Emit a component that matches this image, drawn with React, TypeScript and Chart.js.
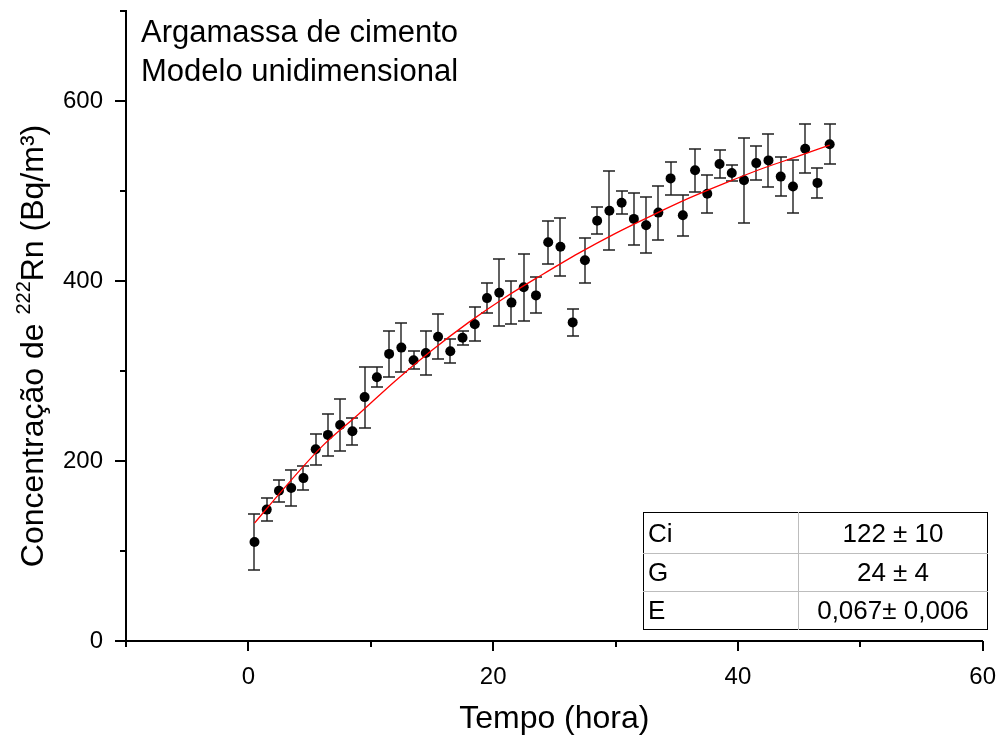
import React, { useEffect, useRef } from 'react';
import { Chart, registerables } from 'chart.js';

Chart.register(...registerables);

// ---- data ----
const hours = [
  0.5, 1.5, 2.5, 3.5, 4.5, 5.5, 6.5, 7.5, 8.5, 9.5, 10.5, 11.5,
  12.5, 13.5, 14.5, 15.5, 16.5, 17.5, 18.5, 19.5, 20.5, 21.5, 22.5, 23.5,
  24.5, 25.5, 26.5, 27.5, 28.5, 29.5, 30.5, 31.5, 32.5, 33.5, 34.5, 35.5,
  36.5, 37.5, 38.5, 39.5, 40.5, 41.5, 42.5, 43.5, 44.5, 45.5, 46.5, 47.5,
];
const concentration = [
  110, 146, 167, 170, 181, 213, 229, 240, 233, 271, 293, 319,
  326, 312, 320, 338, 322, 337, 352, 381, 387, 376, 393, 384,
  443, 438, 354, 423, 467, 478, 487, 469, 462, 476, 514, 473,
  523, 497, 530, 520, 512, 531, 534, 516, 505, 547, 509, 552,
];
const uncertainty = [
  31, 13, 12, 20, 13, 17, 23, 29, 15, 34, 11, 26,
  27, 10, 25, 25, 13, 8, 19, 17, 37, 24, 37, 20,
  24, 32, 15, 25, 15, 44, 13, 29, 31, 30, 18, 23,
  24, 21, 16, 9, 47, 19, 29, 22, 29, 27, 17, 22,
];
const fitHours = [0.5, 3, 6, 9, 12, 15, 18, 21, 24, 27, 30, 33, 36, 39, 42, 45, 47.5];
const fitConcentration = [131, 171, 216, 252, 289, 323, 354, 382, 407, 431, 453, 473, 492, 509, 525, 539, 551];

const xTickLabels = ['0', '20', '40', '60'];
const yTickLabels = ['0', '200', '400', '600'];
const tableRows = [
  ['Ci', '122 ± 10'],
  ['G', '24 ± 4'],
  ['E', '0,067± 0,006'],
];
const annotationLines = ['Argamassa de cimento', 'Modelo unidimensional'];
const yTitleParts = ['Concentração de ', '222', 'Rn (Bq/m³)'];
const xTitle = 'Tempo (hora)';

const FONT = '"Liberation Sans", Arial, Helvetica, sans-serif';

const errorBarPlugin = {
  id: 'errorBars',
  beforeDatasetsDraw(chart: any) {
    const { ctx } = chart;
    const x = chart.scales.x;
    const y = chart.scales.y;
    ctx.save();
    ctx.strokeStyle = '#202020';
    ctx.lineWidth = 1.4;
    hours.forEach((h, i) => {
      const px = Math.round(x.getPixelForValue(h));
      const top = Math.round(y.getPixelForValue(concentration[i] + uncertainty[i]));
      const bot = Math.round(y.getPixelForValue(concentration[i] - uncertainty[i]));
      ctx.beginPath();
      ctx.moveTo(px, top);
      ctx.lineTo(px, bot);
      ctx.moveTo(px - 6, top);
      ctx.lineTo(px + 6, top);
      ctx.moveTo(px - 6, bot);
      ctx.lineTo(px + 6, bot);
      ctx.stroke();
    });
    ctx.restore();
  },
};

const axisDecorPlugin = {
  id: 'axisDecor',
  afterDraw(chart: any) {
    const { ctx } = chart;
    const x = chart.scales.x;
    const y = chart.scales.y;
    ctx.save();
    ctx.strokeStyle = '#000';
    ctx.lineWidth = 2;
    const axisY = chart.chartArea.bottom;
    x.ticks.forEach((t: any) => {
      const px = Math.round(x.getPixelForValue(t.value));
      const major = t.label !== '';
      ctx.beginPath();
      ctx.moveTo(px, axisY);
      ctx.lineTo(px, axisY + (major ? 10 : 6));
      ctx.stroke();
    });
    const axisX = chart.chartArea.left;
    y.ticks.forEach((t: any) => {
      const py = Math.round(y.getPixelForValue(t.value));
      const major = t.label !== '';
      ctx.beginPath();
      ctx.moveTo(axisX - (major ? 11 : 6), py);
      ctx.lineTo(axisX, py);
      ctx.stroke();
    });

    // rotated y-axis title with superscript isotope number
    const big = `32px ${FONT}`;
    const small = `20px ${FONT}`;
    ctx.fillStyle = '#000';
    ctx.font = big;
    const w1 = ctx.measureText(yTitleParts[0]).width;
    const w3 = ctx.measureText(yTitleParts[2]).width;
    ctx.font = small;
    const w2 = ctx.measureText(yTitleParts[1]).width;
    const total = w1 + w2 + w3;
    ctx.translate(43, 346);
    ctx.rotate(-Math.PI / 2);
    ctx.textBaseline = 'alphabetic';
    ctx.textAlign = 'left';
    let cx = -total / 2;
    ctx.font = big;
    ctx.fillText(yTitleParts[0], cx, 0);
    cx += w1;
    ctx.font = small;
    ctx.fillText(yTitleParts[1], cx, -13);
    cx += w2;
    ctx.font = big;
    ctx.fillText(yTitleParts[2], cx, 0);
    ctx.restore();
  },
};

export default function App() {
  const canvasRef = useRef<HTMLCanvasElement | null>(null);

  useEffect(() => {
    const canvas = canvasRef.current;
    if (!canvas) return;
    const chart = new Chart(canvas, {
      type: 'scatter',
      data: {
        datasets: [
          {
            label: 'ajuste',
            data: fitHours.map((h, i) => ({ x: h, y: fitConcentration[i] })),
            showLine: true,
            borderColor: '#ff0000',
            borderWidth: 1.3,
            pointRadius: 0,
            cubicInterpolationMode: 'monotone',
            order: 0,
          } as any,
          {
            label: 'medidas',
            data: hours.map((h, i) => ({ x: h, y: concentration[i] })),
            backgroundColor: '#000',
            borderWidth: 0,
            pointRadius: 5,
            order: 1,
          } as any,
        ],
      },
      options: {
        animation: false,
        responsive: false,
        devicePixelRatio: 1,
        layout: { padding: { left: 0, right: 23, top: 11, bottom: 0 } },
        plugins: {
          legend: { display: false },
          tooltip: { enabled: false },
        },
        scales: {
          x: {
            type: 'linear',
            min: -10,
            max: 60,
            afterFit: (s: any) => {
              s.height = 99;
            },
            ticks: {
              stepSize: 10,
              autoSkip: false,
              maxRotation: 0,
              padding: 12,
              color: '#000',
              font: { family: FONT, size: 24 },
              callback: (v: any) => (xTickLabels.includes(String(v)) ? String(v) : ''),
            },
            grid: {
              display: true,
              drawOnChartArea: false,
              drawTicks: true,
              tickLength: 10,
              tickColor: 'rgba(0,0,0,0)',
            },
            border: { display: true, color: '#000', width: 2 },
            title: {
              display: true,
              text: xTitle,
              color: '#000',
              font: { family: FONT, size: 32 },
              padding: { top: 0, bottom: 2 },
            },
          },
          y: {
            type: 'linear',
            min: 0,
            max: 700,
            afterFit: (s: any) => {
              s.width = 126;
              s.paddingTop = 0;
              s.paddingBottom = 0;
            },
            ticks: {
              stepSize: 100,
              autoSkip: false,
              padding: 12,
              color: '#000',
              font: { family: FONT, size: 24 },
              callback: (v: any) => (yTickLabels.includes(String(v)) ? String(v) : ''),
            },
            grid: {
              display: true,
              drawOnChartArea: false,
              drawTicks: true,
              tickLength: 11,
              tickColor: 'rgba(0,0,0,0)',
            },
            border: { display: true, color: '#000', width: 2 },
          },
        },
      },
      plugins: [errorBarPlugin, axisDecorPlugin],
    });
    return () => chart.destroy();
  }, []);

  const cellBase: React.CSSProperties = {
    fontFamily: FONT,
    fontSize: 26,
    color: '#000',
    padding: 0,
  };
  const rowHeights = [40, 37, 37];

  return (
    <div style={{ position: 'absolute', left: 0, top: 0, width: 1008, height: 740, background: '#fff' }}>
      <canvas ref={canvasRef} width={1008} height={740} style={{ display: 'block' }} />
      <div
        style={{
          position: 'absolute',
          left: 141,
          top: 12,
          fontFamily: FONT,
          fontSize: 31,
          lineHeight: '39px',
          color: '#000',
          whiteSpace: 'nowrap',
        }}
      >
        {annotationLines.map((l) => (
          <div key={l}>{l}</div>
        ))}
      </div>
      <table
        style={{
          position: 'absolute',
          left: 643,
          top: 512,
          width: 344,
          borderCollapse: 'collapse',
          border: '1px solid #000',
          tableLayout: 'fixed',
        }}
      >
        <colgroup>
          <col style={{ width: 155 }} />
          <col style={{ width: 189 }} />
        </colgroup>
        <tbody>
          {tableRows.map((r, i) => (
            <tr key={r[0]} style={{ borderTop: i > 0 ? '1px solid #bdbdbd' : undefined }}>
              <td
                style={{
                  ...cellBase,
                  height: rowHeights[i],
                  lineHeight: `${rowHeights[i]}px`,
                  paddingLeft: 4,
                  textAlign: 'left',
                  borderRight: '1px solid #bdbdbd',
                }}
              >
                {r[0]}
              </td>
              <td style={{ ...cellBase, height: rowHeights[i], lineHeight: `${rowHeights[i]}px`, textAlign: 'center' }}>
                {r[1]}
              </td>
            </tr>
          ))}
        </tbody>
      </table>
    </div>
  );
}
